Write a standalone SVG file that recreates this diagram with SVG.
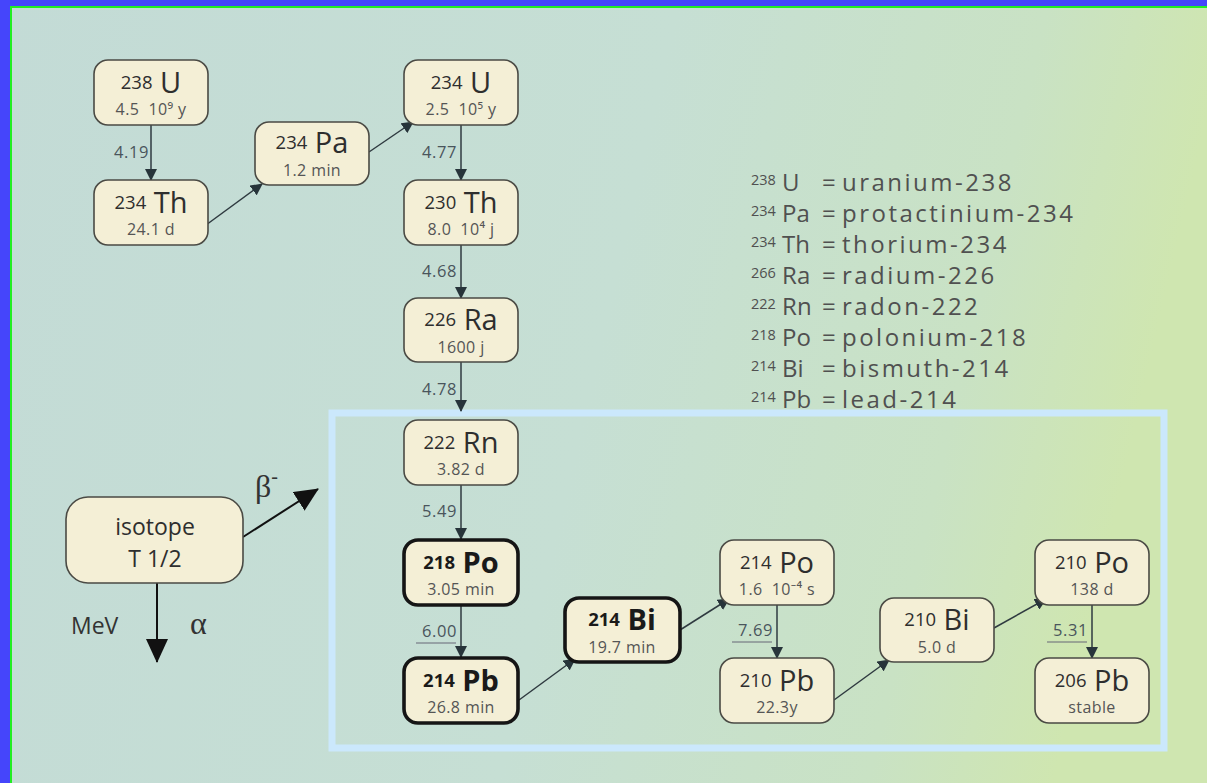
<svg xmlns="http://www.w3.org/2000/svg" width="1207" height="783" viewBox="0 0 1207 783">
<defs>
<linearGradient id="bg" x1="0" y1="0" x2="1" y2="0.15">
<stop offset="0" stop-color="#c3dbd6"/>
<stop offset="0.55" stop-color="#c6dfd4"/>
<stop offset="0.85" stop-color="#c9e2c4"/>
<stop offset="1" stop-color="#cfe6b0"/>
</linearGradient>
<marker id="ah" viewBox="0 0 12 12" refX="11" refY="6" markerWidth="12" markerHeight="12" markerUnits="userSpaceOnUse" orient="auto">
<path d="M0,0 L12,6 L0,12 Z" fill="#27343a"/>
</marker>
<marker id="ahb" viewBox="0 0 24 22" refX="23" refY="11" markerWidth="24" markerHeight="22" markerUnits="userSpaceOnUse" orient="auto">
<path d="M0,0 L24,11 L0,22 Z" fill="#111"/>
</marker>
<style>
.box{fill:#f4efd6;stroke:#4a4a44;stroke-width:1.6}
.bold{stroke:#151515;stroke-width:3.6}
.t{font-family:"Open Sans","Noto Sans",sans-serif;text-anchor:middle;fill:#2e2e2e}
.sym{font-size:29px}
.mass{font-size:18.5px}
.hl{font-size:16px;fill:#555;letter-spacing:0.4px}
.bs .sym,.bs .mass{font-weight:bold;fill:#1a1a1a}
.e{font-family:"Open Sans","Noto Sans",sans-serif;font-size:16.5px;fill:#4a555c;text-anchor:end;letter-spacing:0.6px}
.c{stroke:#2f3a40;stroke-width:1.5;fill:none;marker-end:url(#ah)}
.lg{font-family:"Open Sans","Noto Sans",sans-serif;font-size:24px;fill:#505050}
.lgm{font-size:14.5px}
.nm{letter-spacing:2.5px}
</style>
</defs>
<rect x="0" y="0" width="1207" height="783" fill="url(#bg)"/>
<rect x="0" y="0" width="1207" height="6" fill="#4545fb"/>
<rect x="0" y="0" width="10" height="783" fill="#4545fb"/>
<rect x="10" y="6" width="1197" height="2" fill="#22ee22"/>
<rect x="10" y="6" width="2" height="777" fill="#22ee22"/>

<rect id="highlight" x="332" y="413" width="832" height="335" fill="none" stroke="#cbe8fc" stroke-width="7"/>

<g id="connectors">
<line class="c" x1="151" y1="125" x2="151" y2="180"/>
<line class="c" x1="206" y1="225" x2="262" y2="184"/>
<line class="c" x1="369" y1="152" x2="413" y2="122"/>
<line class="c" x1="461" y1="125" x2="461" y2="180"/>
<line class="c" x1="461" y1="245" x2="461" y2="298"/>
<line class="c" x1="461" y1="362" x2="461" y2="411"/>
<line class="c" x1="461" y1="485" x2="461" y2="539"/>
<line class="c" x1="461" y1="605" x2="461" y2="657"/>
<line class="c" x1="519" y1="700" x2="575" y2="659"/>
<line class="c" x1="680" y1="630" x2="729" y2="599"/>
<line class="c" x1="777" y1="605" x2="777" y2="658"/>
<line class="c" x1="834" y1="700" x2="889" y2="660"/>
<line class="c" x1="994" y1="628" x2="1046" y2="599"/>
<line class="c" x1="1092" y1="605" x2="1092" y2="658"/>
<line x1="157" y1="583" x2="157" y2="662" stroke="#111" stroke-width="2" marker-end="url(#ahb)"/>
<line x1="243" y1="537" x2="318" y2="489" stroke="#111" stroke-width="2" marker-end="url(#ahb)"/>
</g>

<g id="energies">
<text class="e" x="149" y="158">4.19</text>
<text class="e" x="457" y="158">4.77</text>
<text class="e" x="457" y="277">4.68</text>
<text class="e" x="457" y="395">4.78</text>
<text class="e" x="457" y="517">5.49</text>
<text class="e" x="457" y="637">6.00</text>
<line x1="416" y1="643" x2="456" y2="643" stroke="#667" stroke-width="1"/>
<text class="e" x="773" y="636">7.69</text>
<line x1="732" y1="642" x2="772" y2="642" stroke="#667" stroke-width="1"/>
<text class="e" x="1088" y="636">5.31</text>
<line x1="1047" y1="642" x2="1087" y2="642" stroke="#667" stroke-width="1"/>
</g>

<g id="n-U238"><rect class="box" x="94" y="60" width="114" height="65" rx="14"/>
<text class="t" x="151" y="93"><tspan class="mass" dy="-4">238</tspan><tspan class="sym" dy="4"> U</tspan></text>
<text class="t hl" x="151" y="115">4.5&#160;&#160;10⁹ y</text></g>

<g id="n-Th234"><rect class="box" x="94" y="180" width="114" height="65" rx="14"/>
<text class="t" x="151" y="213"><tspan class="mass" dy="-4">234</tspan><tspan class="sym" dy="4"> Th</tspan></text>
<text class="t hl" x="151" y="235">24.1 d</text></g>

<g id="n-Pa234"><rect class="box" x="255" y="122" width="114" height="63" rx="14"/>
<text class="t" x="312" y="153"><tspan class="mass" dy="-4">234</tspan><tspan class="sym" dy="4"> Pa</tspan></text>
<text class="t hl" x="312" y="176">1.2 min</text></g>

<g id="n-U234"><rect class="box" x="404" y="60" width="114" height="65" rx="14"/>
<text class="t" x="461" y="93"><tspan class="mass" dy="-4">234</tspan><tspan class="sym" dy="4"> U</tspan></text>
<text class="t hl" x="461" y="115">2.5&#160;&#160;10⁵ y</text></g>

<g id="n-Th230"><rect class="box" x="404" y="180" width="114" height="65" rx="14"/>
<text class="t" x="461" y="213"><tspan class="mass" dy="-4">230</tspan><tspan class="sym" dy="4"> Th</tspan></text>
<text class="t hl" x="461" y="235">8.0&#160;&#160;10⁴ j</text></g>

<g id="n-Ra226"><rect class="box" x="404" y="298" width="114" height="64" rx="14"/>
<text class="t" x="461" y="330"><tspan class="mass" dy="-4">226</tspan><tspan class="sym" dy="4"> Ra</tspan></text>
<text class="t hl" x="461" y="353">1600 j</text></g>

<g id="n-Rn222"><rect class="box" x="404" y="420" width="114" height="65" rx="14"/>
<text class="t" x="461" y="453"><tspan class="mass" dy="-4">222</tspan><tspan class="sym" dy="4"> Rn</tspan></text>
<text class="t hl" x="461" y="475">3.82 d</text></g>

<g id="n-Po218" class="bs"><rect class="box bold" x="404" y="540" width="114" height="65" rx="14"/>
<text class="t" x="461" y="573"><tspan class="mass" dy="-4">218</tspan><tspan class="sym" dy="4"> Po</tspan></text>
<text class="t hl" x="461" y="595">3.05 min</text></g>

<g id="n-Pb214" class="bs"><rect class="box bold" x="404" y="658" width="114" height="65" rx="14"/>
<text class="t" x="461" y="691"><tspan class="mass" dy="-4">214</tspan><tspan class="sym" dy="4"> Pb</tspan></text>
<text class="t hl" x="461" y="713">26.8 min</text></g>

<g id="n-Bi214" class="bs"><rect class="box bold" x="565" y="598" width="115" height="64" rx="14"/>
<text class="t" x="622" y="630"><tspan class="mass" dy="-4">214</tspan><tspan class="sym" dy="4"> Bi</tspan></text>
<text class="t hl" x="622" y="653">19.7 min</text></g>

<g id="n-Po214"><rect class="box" x="720" y="540" width="114" height="65" rx="14"/>
<text class="t" x="777" y="573"><tspan class="mass" dy="-4">214</tspan><tspan class="sym" dy="4"> Po</tspan></text>
<text class="t hl" x="777" y="595">1.6&#160;&#160;10⁻⁴ s</text></g>

<g id="n-Pb210"><rect class="box" x="720" y="658" width="114" height="65" rx="14"/>
<text class="t" x="777" y="691"><tspan class="mass" dy="-4">210</tspan><tspan class="sym" dy="4"> Pb</tspan></text>
<text class="t hl" x="777" y="713">22.3y</text></g>

<g id="n-Bi210"><rect class="box" x="880" y="598" width="114" height="64" rx="14"/>
<text class="t" x="937" y="630"><tspan class="mass" dy="-4">210</tspan><tspan class="sym" dy="4"> Bi</tspan></text>
<text class="t hl" x="937" y="653">5.0 d</text></g>

<g id="n-Po210"><rect class="box" x="1035" y="540" width="114" height="65" rx="14"/>
<text class="t" x="1092" y="573"><tspan class="mass" dy="-4">210</tspan><tspan class="sym" dy="4"> Po</tspan></text>
<text class="t hl" x="1092" y="595">138 d</text></g>

<g id="n-Pb206"><rect class="box" x="1035" y="658" width="114" height="65" rx="14"/>
<text class="t" x="1092" y="691"><tspan class="mass" dy="-4">206</tspan><tspan class="sym" dy="4"> Pb</tspan></text>
<text class="t hl" x="1092" y="713">stable</text></g>

<g id="key">
<rect class="box" x="66" y="497" width="177" height="86" rx="22"/>
<text class="t" x="155" y="535" font-size="23" fill="#3a3a3a">isotope</text>
<text class="t" x="155" y="567" font-size="23" fill="#3a3a3a">T 1/2</text>
<text x="71" y="634" font-family="Open Sans, sans-serif" font-size="23" fill="#333">MeV</text>
<text x="190" y="634" font-family="Liberation Serif, serif" font-size="32" fill="#333">α</text>
<text x="255" y="497" font-family="Liberation Serif, serif" font-size="32" fill="#333">β<tspan font-size="20" dy="-14">-</tspan></text>
</g>

<g id="legend" class="lg">
<text x="751" y="191"><tspan class="lgm" dy="-6">238</tspan><tspan dy="6"> U</tspan></text><text x="822" y="191">= <tspan class="nm">uranium-238</tspan></text>
<text x="751" y="222"><tspan class="lgm" dy="-6">234</tspan><tspan dy="6"> Pa</tspan></text><text x="822" y="222">= <tspan class="nm">protactinium-234</tspan></text>
<text x="751" y="253"><tspan class="lgm" dy="-6">234</tspan><tspan dy="6"> Th</tspan></text><text x="822" y="253">= <tspan class="nm">thorium-234</tspan></text>
<text x="751" y="284"><tspan class="lgm" dy="-6">266</tspan><tspan dy="6"> Ra</tspan></text><text x="822" y="284">= <tspan class="nm">radium-226</tspan></text>
<text x="751" y="315"><tspan class="lgm" dy="-6">222</tspan><tspan dy="6"> Rn</tspan></text><text x="822" y="315">= <tspan class="nm">radon-222</tspan></text>
<text x="751" y="346"><tspan class="lgm" dy="-6">218</tspan><tspan dy="6"> Po</tspan></text><text x="822" y="346">= <tspan class="nm">polonium-218</tspan></text>
<text x="751" y="377"><tspan class="lgm" dy="-6">214</tspan><tspan dy="6"> Bi</tspan></text><text x="822" y="377">= <tspan class="nm">bismuth-214</tspan></text>
<text x="751" y="408"><tspan class="lgm" dy="-6">214</tspan><tspan dy="6"> Pb</tspan></text><text x="822" y="408">= <tspan class="nm">lead-214</tspan></text>
</g>
</svg>
